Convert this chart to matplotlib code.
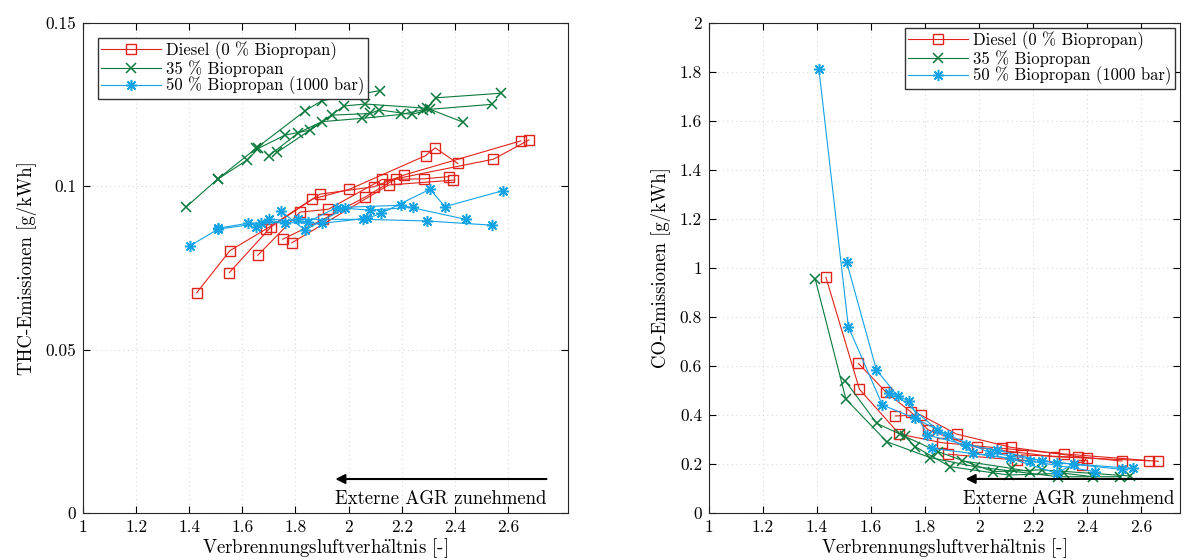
import matplotlib
matplotlib.use("Agg")
import matplotlib.pyplot as plt

plt.rcParams['font.family'] = 'serif'
plt.rcParams['font.serif'] = ['cmr10', 'DejaVu Serif']
plt.rcParams['mathtext.fontset'] = 'cm'
plt.rcParams['axes.formatter.use_mathtext'] = True
plt.rcParams['axes.unicode_minus'] = False

# ---------------- THC data (left) ----------------
thc_diesel_x = [
    [1.428, 1.553, 1.689, 1.863, 2.003, 2.290, 2.326, 2.411],
    [1.551, 1.708, 1.892, 2.096, 2.210, 2.648],
    [1.658, 1.817, 1.924, 2.126, 2.285, 2.378],
    [1.752, 1.905, 2.062, 2.177, 2.545, 2.679],
    [1.786, 2.151, 2.394],
]
thc_diesel_y = [
    [0.0674, 0.0803, 0.0869, 0.0961, 0.0991, 0.1094, 0.1118, 0.1070],
    [0.0736, 0.0876, 0.0976, 0.0999, 0.1035, 0.1139],
    [0.0789, 0.0921, 0.0930, 0.1021, 0.1023, 0.1030],
    [0.0838, 0.0899, 0.0967, 0.1023, 0.1083, 0.1142],
    [0.0827, 0.1004, 0.1019],
]
thc_bp35_x = [
    [1.388, 1.507, 1.651, 1.836, 1.899, 2.118],
    [1.507, 1.619, 1.660, 1.761, 1.855, 1.983, 2.062, 2.294, 2.329, 2.573],
    [1.699, 1.811, 1.899, 2.049, 2.197, 2.279, 2.539],
    [1.732, 1.939, 2.081, 2.116, 2.238, 2.306, 2.432],
]
thc_bp35_y = [
    [0.0937, 0.1022, 0.1116, 0.1231, 0.1262, 0.1293],
    [0.1022, 0.1081, 0.1116, 0.1157, 0.1172, 0.1246, 0.1252, 0.1239, 0.1271, 0.1285],
    [0.1093, 0.1164, 0.1198, 0.1208, 0.1220, 0.1234, 0.1251],
    [0.1105, 0.1218, 0.1223, 0.1234, 0.1220, 0.1236, 0.1196],
]
thc_bp50_x = [
    [1.403, 1.509, 1.669, 1.811, 2.055, 2.296, 2.541],
    [1.509, 1.622, 1.761, 1.899, 2.070, 2.121, 2.306, 2.363, 2.582],
    [1.651, 1.701, 1.848, 1.955, 2.197, 2.441],
    [1.745, 1.836, 1.986, 2.081, 2.241],
]
thc_bp50_y = [
    [0.0818, 0.0869, 0.0887, 0.0899, 0.0899, 0.0894, 0.0881],
    [0.0872, 0.0887, 0.0889, 0.0887, 0.0902, 0.0917, 0.0991, 0.0938, 0.0987],
    [0.0877, 0.0899, 0.0892, 0.0935, 0.0942, 0.0899],
    [0.0924, 0.0866, 0.0933, 0.0927, 0.0936],
]

# ---------------- CO data (right) ----------------
co_diesel_x = [
    [1.433, 1.557, 1.705, 1.862, 2.086, 2.315, 2.664],
    [1.553, 1.656, 1.747, 1.812, 1.991, 2.276, 2.631],
    [1.689, 1.784, 1.917, 2.119, 2.368, 2.529],
    [1.886, 2.140, 2.158, 2.399, 2.380],
]
co_diesel_y = [
    [0.962, 0.505, 0.322, 0.287, 0.264, 0.241, 0.211],
    [0.611, 0.493, 0.413, 0.339, 0.268, 0.230, 0.213],
    [0.396, 0.400, 0.322, 0.268, 0.230, 0.212],
    [0.240, 0.216, 0.237, 0.226, 0.196],
]
co_bp35_x = [
    [1.393, 1.507, 1.658, 1.819, 1.985, 2.294, 2.522],
    [1.504, 1.621, 1.707, 1.849, 2.053, 2.232, 2.559],
    [1.726, 1.763, 1.893, 2.109, 2.315, 2.423],
    [1.936, 2.121, 2.189],
]
co_bp35_y = [
    [0.956, 0.465, 0.291, 0.226, 0.189, 0.148, 0.148],
    [0.540, 0.366, 0.322, 0.250, 0.169, 0.176, 0.151],
    [0.314, 0.271, 0.189, 0.155, 0.162, 0.148],
    [0.213, 0.182, 0.169],
]
co_bp50_x = [
    [1.407, 1.516, 1.642, 1.763, 1.886, 2.041, 2.287, 2.569],
    [1.510, 1.620, 1.698, 1.846, 1.979, 2.189, 2.430],
    [1.667, 1.741, 1.809, 1.952, 2.066, 2.232, 2.529],
    [1.825, 2.115, 2.287, 2.350],
]
co_bp50_y = [
    [1.811, 0.760, 0.441, 0.386, 0.318, 0.246, 0.205, 0.182],
    [1.023, 0.584, 0.478, 0.339, 0.244, 0.212, 0.169],
    [0.491, 0.457, 0.318, 0.278, 0.257, 0.213, 0.178],
    [0.264, 0.223, 0.162, 0.200],
]

labels = ['Diesel (0 % Biopropan)', '35 % Biopropan', '50 % Biopropan (1000 bar)']
colors = ['#e2231a', '#0a7a3c', '#12a2e6']
markers = ['s', 'x', (8, 2, 0)]
msizes = [7, 7, 8]

x_ticks = [1, 1.2, 1.4, 1.6, 1.8, 2, 2.2, 2.4, 2.6]
x_ticklabels = ['1', '1.2', '1.4', '1.6', '1.8', '2', '2.2', '2.4', '2.6']
thc_ticks = [0, 0.05, 0.1, 0.15]
thc_ticklabels = ['0', '0.05', '0.1', '0.15']
co_ticks = [0, 0.2, 0.4, 0.6, 0.8, 1.0, 1.2, 1.4, 1.6, 1.8, 2.0]
co_ticklabels = ['0', '0.2', '0.4', '0.6', '0.8', '1', '1.2', '1.4', '1.6', '1.8', '2']

xlabel_text = r'Verbrennungsluftverh$\mathrm{\ddot{a}}$ltnis [-]'

fig = plt.figure(figsize=(11.84, 5.6), dpi=100)
W, H = 1184, 560
ax1 = fig.add_axes([83 / W, 47 / H, 485 / W, 490 / H])
ax2 = fig.add_axes([709 / W, 47 / H, 471 / W, 490 / H])


def plot_group(ax, xs_list, ys_list, k):
    h = None
    for xs, ys in zip(xs_list, ys_list):
        kw = dict(color=colors[k], lw=0.8, marker=markers[k], markersize=msizes[k],
                  markeredgewidth=1.1 if k != 0 else 1.0)
        if k == 0:
            kw['markerfacecolor'] = 'none'
        h, = ax.plot(xs, ys, **kw)
    h.set_label(labels[k])
    return h


for ax, groups, ylim, yt, ytl, ylab, loc, bap in [
    (ax1, [(thc_diesel_x, thc_diesel_y), (thc_bp35_x, thc_bp35_y), (thc_bp50_x, thc_bp50_y)],
     (0, 0.15), thc_ticks, thc_ticklabels, 'THC-Emissionen [g/kWh]', 'upper left', 0.9),
    (ax2, [(co_diesel_x, co_diesel_y), (co_bp35_x, co_bp35_y), (co_bp50_x, co_bp50_y)],
     (0, 2.0), co_ticks, co_ticklabels, 'CO-Emissionen [g/kWh]', 'upper right', 0.3),
]:
    hs = []
    for k, (gx, gy) in enumerate(groups):
        hs.append(plot_group(ax, gx, gy, k))
    ax.set_ylim(*ylim)
    ax.set_yticks(yt)
    ax.set_yticklabels(ytl)
    ax.set_xticks(x_ticks)
    ax.set_xticklabels(x_ticklabels)
    ax.grid(True, color='#d9d9d9', linestyle=(0, (1, 3)), linewidth=0.8)
    ax.set_axisbelow(True)
    ax.tick_params(direction='in', top=True, right=True, labelsize=12.5,
                   length=5, width=0.8, pad=5)
    for s in ax.spines.values():
        s.set_linewidth(0.8)
        s.set_color('#262626')
    ax.set_xlabel(xlabel_text, fontsize=13.5, labelpad=1)
    ax.set_ylabel(ylab, fontsize=13.5, labelpad=6)
    leg = ax.legend(handles=hs, loc=loc, fontsize=12, frameon=True,
                    fancybox=False, framealpha=1, edgecolor='#333333',
                    borderpad=0.2, labelspacing=0.0, handlelength=3.6,
                    handletextpad=0.3, borderaxespad=bap)
    leg.get_frame().set_linewidth(1.0)

ax1.set_xlim(1, 2.826)
ax2.set_xlim(1, 2.744)

# annotations
ax1.annotate('', xy=(1.95, 0.0104), xytext=(2.745, 0.0104),
             arrowprops=dict(arrowstyle='-|>', color='black', lw=1.5,
                             mutation_scale=14, shrinkA=0, shrinkB=0))
ax1.text(2.745, 0.0016, 'Externe AGR zunehmend', ha='right', va='bottom', fontsize=13.5)
ax2.annotate('', xy=(1.95, 0.139), xytext=(2.718, 0.139),
             arrowprops=dict(arrowstyle='-|>', color='black', lw=1.5,
                             mutation_scale=14, shrinkA=0, shrinkB=0))
ax2.text(2.722, 0.022, 'Externe AGR zunehmend', ha='right', va='bottom', fontsize=13.5)

fig.savefig('out.png', dpi=100)
